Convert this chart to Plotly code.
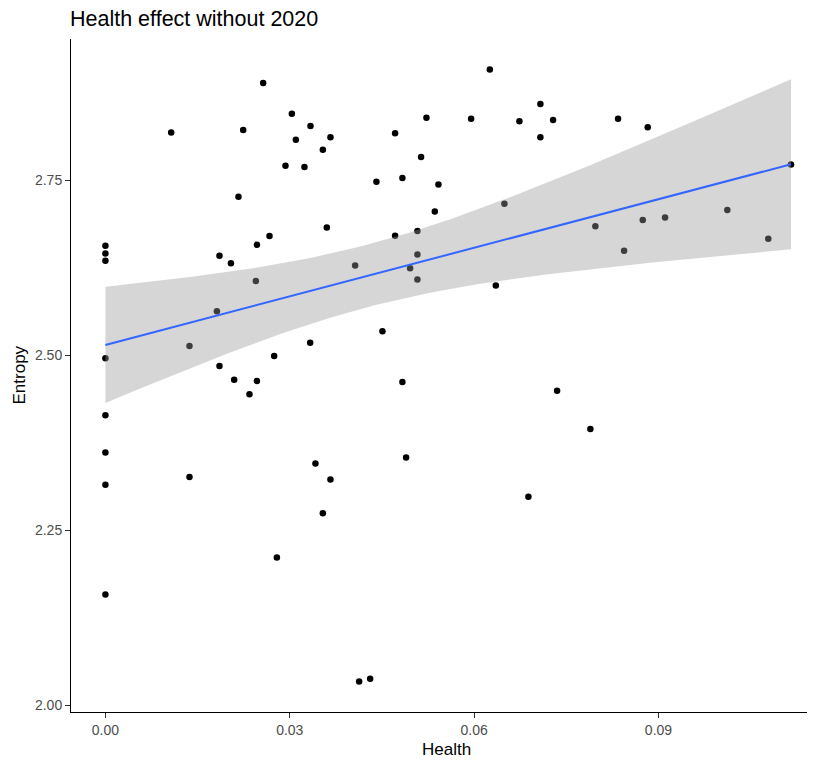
import numpy as np
import plotly.graph_objects as go

# Data
health = [
    0.02567, 0.03034, 0.03337, 0.01070, 0.02242, 0.03099, 0.03662, 0.03538, 0.02930, 0.03239,
    0.02165, 0.03603, 0.02670, 0.02465, 0.0, 0.0, 0.0, 0.01856, 0.02042, 0.02448,
    0.01814, 0.01368, 0.03332, 0.0, 0.02746, 0.01856, 0.02095, 0.02465, 0.02344, 0.0,
    0.0, 0.01368, 0.0, 0.03418, 0.03662, 0.03538, 0.02790, 0.0,
    0.06255, 0.07078, 0.05224, 0.05951, 0.06737, 0.07285, 0.04714, 0.07078, 0.05137, 0.04410,
    0.04833, 0.05419, 0.05360, 0.06493, 0.04714, 0.05077, 0.05077, 0.04064, 0.04958, 0.05077,
    0.06353, 0.04508, 0.04833,
    0.08342, 0.08825, 0.11157, 0.07973, 0.08744, 0.09107, 0.10120, 0.08440, 0.10787,
    0.07350, 0.04893, 0.06883, 0.04129, 0.04308, 0.07892,
]
entropy = [
    2.8889, 2.8450, 2.8274, 2.8182, 2.8216, 2.8078, 2.8111, 2.7935, 2.7706, 2.7687,
    2.7262, 2.6824, 2.6701, 2.6576, 2.6562, 2.6452, 2.6347, 2.6419, 2.6314, 2.6061,
    2.5628, 2.5132, 2.5179, 2.4956, 2.4989, 2.4845, 2.4650, 2.4631, 2.4441, 2.4140,
    2.3611, 2.3258, 2.3148, 2.3454, 2.3225, 2.2743, 2.2110, 2.1580,
    2.9079, 2.8588, 2.8392, 2.8378, 2.8340, 2.8360, 2.8168, 2.8111, 2.7830, 2.7477,
    2.7530, 2.7438, 2.7052, 2.7162, 2.6705, 2.6772, 2.6437, 2.6280, 2.6243, 2.6080,
    2.5994, 2.5342, 2.4617,
    2.8378, 2.8254, 2.7725, 2.6843, 2.6929, 2.6966, 2.7072, 2.6490, 2.6662,
    2.4492, 2.3540, 2.2976, 2.0340, 2.0379, 2.3945,
]
x_ticks = [0.00, 0.03, 0.06, 0.09]
y_ticks = [2.00, 2.25, 2.50, 2.75]

# Linear model fit with 95% confidence band (like geom_smooth(method="lm"))
x = np.array(health)
y = np.array(entropy)
n = len(x)
b1, b0 = np.polyfit(x, y, 1)
resid = y - (b0 + b1 * x)
s = np.sqrt(np.sum(resid ** 2) / (n - 2))
xg = np.linspace(x.min(), x.max(), 80)
yg = b0 + b1 * xg
se = s * np.sqrt(1.0 / n + (xg - x.mean()) ** 2 / np.sum((x - x.mean()) ** 2))
tq = 1.9925
lo = yg - tq * se
hi = yg + tq * se

fig = go.Figure()
fig.add_trace(go.Scatter(
    x=health, y=entropy, mode="markers",
    marker=dict(color="black", size=6.5, line=dict(width=0)),
    showlegend=False, hoverinfo="skip",
))
fig.add_trace(go.Scatter(
    x=np.concatenate([xg, xg[::-1]]), y=np.concatenate([hi, lo[::-1]]),
    fill="toself", fillcolor="rgba(153,153,153,0.4)", line=dict(width=0),
    mode="lines", showlegend=False, hoverinfo="skip",
))
fig.add_trace(go.Scatter(
    x=xg, y=yg, mode="lines", line=dict(color="#3366FF", width=2),
    showlegend=False, hoverinfo="skip",
))

font = "Liberation Sans, Arial, sans-serif"
W, H = 807, 752
L, T, B = 63, 31, 48
pw, ph = W - L, H - T - B
fig.update_layout(
    width=W, height=H,
    margin=dict(l=L, r=0, t=T, b=B),
    paper_bgcolor="white", plot_bgcolor="white",
    font=dict(family=font),
    title=dict(text="Health effect without 2020", x=62 / W, xref="container", xanchor="left",
               y=1 - 10 / H, yref="container", yanchor="middle",
               font=dict(size=21.5, color="black", family=font)),
    xaxis=dict(range=[-0.0056, 0.11547], tickvals=x_ticks, ticktext=[f"{v:.2f}" for v in x_ticks],
               showgrid=False, zeroline=False, showline=True, linecolor="black", linewidth=1,
               ticks="outside", ticklen=5, tickcolor="#333333", tickwidth=1,
               tickfont=dict(size=14, color="#4D4D4D", family=font)),
    yaxis=dict(range=[1.9903, 2.9516], tickvals=y_ticks, ticktext=[f"{v:.2f}" for v in y_ticks],
               showgrid=False, zeroline=False, showline=True, linecolor="black", linewidth=1,
               ticks="outside", ticklen=5, tickcolor="#333333", tickwidth=1,
               tickfont=dict(size=14, color="#4D4D4D", family=font)),
    annotations=[
        dict(text="Health", xref="paper", yref="paper", x=(438 - L) / pw, y=-(741 - (H - B)) / ph,
             xanchor="center", yanchor="middle", showarrow=False,
             font=dict(size=17, color="black", family=font)),
        dict(text="Entropy", xref="paper", yref="paper", x=(11 - L) / pw, y=0.5,
             xanchor="center", yanchor="middle", showarrow=False, textangle=-90,
             font=dict(size=17, color="black", family=font)),
    ],
)

fig.write_html("out.html")
